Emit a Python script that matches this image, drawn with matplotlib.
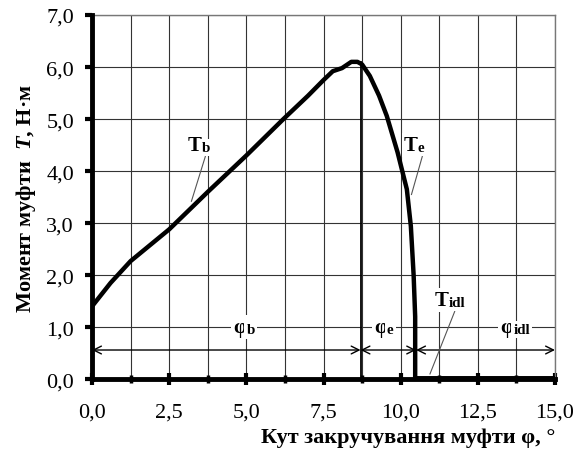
import numpy as np
import matplotlib.pyplot as plt

plt.rcParams['font.family'] = ['Liberation Serif', 'DejaVu Serif']
plt.rcParams['mathtext.fontset'] = 'custom'
plt.rcParams['mathtext.bfit'] = 'Liberation Serif:bold:italic'

# кут закручування, град / момент, Н·м
phi = [0.0, 0.6, 1.25, 2.5, 3.75, 5.0, 6.2, 7.0, 7.5, 7.8, 8.1, 8.4, 8.6, 8.75,
       9.0, 9.3, 9.55, 9.9, 10.2, 10.33, 10.42, 10.47, 10.47, 11.0, 15.0]
T = [1.4, 1.85, 2.27, 2.88, 3.6, 4.3, 5.0, 5.45, 5.75, 5.92, 5.98, 6.1, 6.1, 6.05,
     5.83, 5.45, 5.06, 4.36, 3.65, 2.94, 2.0, 1.2, 0.0, 0.0, 0.0]

phi_b, phi_e, phi_end = 8.7, 10.5, 15.0
T_peak = 6.1

fig = plt.figure(figsize=(5.79, 4.52), dpi=100)
ax = fig.add_axes([0.159, 0.159, 0.7995, 0.8055])

ax.plot(phi, T, color='black', lw=3.2, solid_capstyle='butt', zorder=5)
ax.plot([phi_e, phi_end], [0, 0], color='black', lw=5, zorder=6)
ax.plot([phi_b, phi_b], [0, T_peak], color='black', lw=1.3, zorder=4)

ax.set_xlim(0, 15)
ax.set_ylim(0, 7)
ax.set_xticks(np.arange(0, 15.01, 2.5))
ax.set_xticks(np.arange(0, 15.01, 1.25), minor=True)
ax.set_yticks(np.arange(0, 7.01, 1.0))
ax.set_xticklabels([f"{v:.1f}".replace('.', ',') for v in np.arange(0, 15.01, 2.5)])
ax.set_yticklabels([f"{v:.1f}".replace('.', ',') for v in np.arange(0, 7.01, 1.0)])
ax.tick_params(axis='both', labelsize=16, colors='black')
ax.tick_params(axis='x', which='major', direction='inout', length=9, width=3, pad=12)
ax.tick_params(axis='x', which='minor', direction='inout', length=6, width=2.5)
ax.tick_params(axis='y', which='major', direction='out', length=5, width=3, pad=8)
ax.grid(True, which='both', axis='x', color='#333333', lw=0.8)
ax.grid(True, which='major', axis='y', color='#333333', lw=0.8)
for s in ['top', 'right']:
    ax.spines[s].set_color('#777777')
    ax.spines[s].set_linewidth(1.0)
for s in ['left', 'bottom']:
    ax.spines[s].set_linewidth(3.5)
    ax.spines[s].set_zorder(7)

# розмірні стрілки
y_arr = 0.56
for a, b in [(0, phi_b), (phi_b, phi_e), (phi_e, phi_end)]:
    ax.annotate('', xy=(a, y_arr), xytext=(b, y_arr),
                arrowprops=dict(arrowstyle='<->', color='black', lw=1.0,
                                mutation_scale=14, shrinkA=0, shrinkB=0), zorder=3)


def label(x, y, big, small, size=15):
    t = ax.text(x, y, big, fontsize=size, fontweight='bold', ha='right', va='center',
                bbox=dict(facecolor='white', edgecolor='none', pad=1.5), zorder=8)
    ax.annotate(small, xy=(x, y), xytext=(0, -1.5), textcoords='offset points',
                fontsize=size * 0.72, fontweight='bold', ha='left', va='center',
                bbox=dict(facecolor='white', edgecolor='none', pad=1.5), zorder=8)
    return t


label(5.0, 1.0, 'φ', 'b')
label(9.55, 1.0, 'φ', 'e')
label(13.65, 1.0, 'φ', 'idl')
label(3.55, 4.5, 'T', 'b')
label(10.55, 4.5, 'T', 'e')
label(11.55, 1.52, 'T', 'idl')

ax.plot([3.67, 3.22], [4.28, 3.42], color='#555555', lw=0.8, zorder=7)
ax.plot([10.7, 10.35], [4.28, 3.55], color='#555555', lw=0.8, zorder=7)
ax.plot([11.75, 10.95], [1.3, 0.1], color='#555555', lw=0.8, zorder=7)

ax.set_ylabel(r'Момент муфти  $\mathbfit{T}$, Н·м', fontsize=16, fontweight='bold', labelpad=6)
ax.set_xlabel('Кут закручування муфти φ, °', fontsize=16, fontweight='bold',
              loc='right', labelpad=4)

fig.savefig('out.png', dpi=100)
